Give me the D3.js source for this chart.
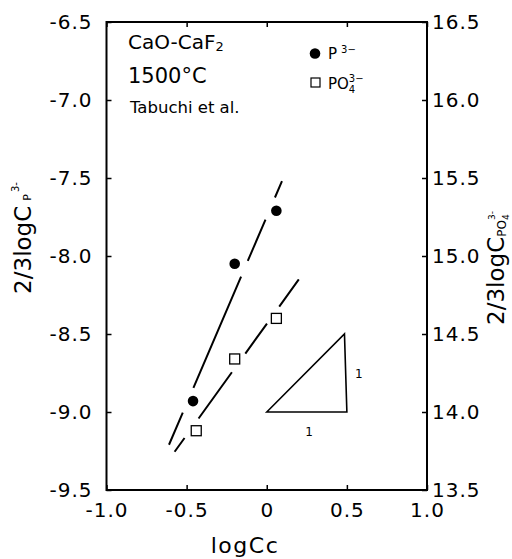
<!DOCTYPE html>
<html><head><meta charset="utf-8">
<script src="https://cdn.jsdelivr.net/npm/d3@7"></script>
<style>
html,body{margin:0;padding:0;background:#fff;}
text{font-family:"DejaVu Sans",sans-serif;fill:#000;}
</style></head>
<body><svg id="c" width="512" height="559"></svg>
<script>
// ---- data ----
const xTicks = [-1.0, -0.5, 0, 0.5, 1.0];
const yLeftTicks = [-6.5, -7.0, -7.5, -8.0, -8.5, -9.0, -9.5];
const yRightTicks = [16.5, 16.0, 15.5, 15.0, 14.5, 14.0, 13.5];
// P3- (left axis)
const pX = [-0.46, -0.20, 0.06];
const pY = [-8.93, -8.05, -7.71];
// PO4 3- (right axis)
const po4X = [-0.44, -0.20, 0.06];
const po4Y = [13.88, 14.34, 14.60];
// fitted lines
const pLineX = [-0.61, 0.095];
const pLineY = [-9.21, -7.52];
const po4LineX = [-0.575, 0.20];
const po4LineY = [13.745, 14.85];
// slope triangle (left axis units)
const triX = [0, 0.485, 0.5];
const triY = [-9.0, -8.5, -9.0];

const svg = d3.select("#c");
const L = 106.5, R = 427, T = 22, B = 490;
const x = d3.scaleLinear().domain([-1, 1]).range([L, R]);
const yL = d3.scaleLinear().domain([-9.5, -6.5]).range([B, T]);
const yR = d3.scaleLinear().domain([13.5, 16.5]).range([B, T]);
const fmt = d => d === 0 ? "0" : d3.format(".1f")(d).replace("−", "-");

// axes
const gx = svg.append("g").attr("transform", `translate(0,${B})`)
  .call(d3.axisBottom(x).tickValues(xTicks).tickFormat(fmt).tickSize(-5).tickSizeOuter(0).tickPadding(13));
const gxt = svg.append("g").attr("transform", `translate(0,${T})`)
  .call(d3.axisTop(x).tickValues(xTicks).tickFormat("").tickSize(-5).tickSizeOuter(0));
const gl = svg.append("g").attr("transform", `translate(${L},0)`)
  .call(d3.axisLeft(yL).tickValues(yLeftTicks).tickFormat(fmt).tickSize(-5).tickSizeOuter(0).tickPadding(14));
const gr = svg.append("g").attr("transform", `translate(${R},0)`)
  .call(d3.axisRight(yR).tickValues(yRightTicks).tickFormat(fmt).tickSize(-5).tickSizeOuter(0).tickPadding(5));
[gx, gxt, gl, gr].forEach(g => {
  g.select(".domain").remove();
  g.selectAll(".tick line").attr("stroke", "#000").attr("stroke-width", 1.5);
  g.selectAll("text").style("font-size", "20px").attr("fill", "#000")
    .style("font-family", '"DejaVu Sans",sans-serif').style("letter-spacing", "1px");
});
svg.append("rect").attr("x", L).attr("y", T).attr("width", R - L).attr("height", B - T)
  .attr("fill", "none").attr("stroke", "#000").attr("stroke-width", 2);

// fitted lines
const line = d3.line();
svg.append("path")
  .attr("d", line(pLineX.map((v, i) => [x(v), yL(pLineY[i])])))
  .attr("stroke", "#000").attr("stroke-width", 2).attr("fill", "none")
  .attr("stroke-dasharray", "35,27,121,17,45,24,18");
svg.append("path")
  .attr("d", line(po4LineX.map((v, i) => [x(v), yR(po4LineY[i])])))
  .attr("stroke", "#000").attr("stroke-width", 2).attr("fill", "none")
  .attr("stroke-dasharray", "17,24,57,23,37,21,34");

// markers
svg.selectAll(".pc").data(pX).enter().append("circle")
  .attr("cx", d => x(d)).attr("cy", (d, i) => yL(pY[i])).attr("r", 5.3).attr("fill", "#000");
const s = 10;
svg.selectAll(".ps").data(po4X).enter().append("rect")
  .attr("x", d => x(d) - s / 2).attr("y", (d, i) => yR(po4Y[i]) - s / 2)
  .attr("width", s).attr("height", s).attr("fill", "#fff").attr("stroke", "#000").attr("stroke-width", 1.3);

// triangle
svg.append("path")
  .attr("d", line(triX.map((v, i) => [x(v), yL(triY[i])])) + "Z")
  .attr("fill", "none").attr("stroke", "#000").attr("stroke-width", 1.6);
svg.append("text").attr("x", x(0.5) + 8).attr("y", yL(-8.75) + 5).style("font-size", "12px").text("1");
svg.append("text").attr("x", x(0.24)).attr("y", yL(-9.0) + 24).style("font-size", "12px").text("1");

// annotations
svg.append("text").attr("x", 128).attr("y", 49).style("font-size", "20px")
  .call(t => { t.append("tspan").text("CaO-CaF"); t.append("tspan").attr("dy", 2).style("font-size", "13px").text("2"); });
svg.append("text").attr("x", 128).attr("y", 83).style("font-size", "21px").text("1500°C");
svg.append("text").attr("x", 130).attr("y", 113).style("font-size", "16.5px").text("Tabuchi et al.");

// legend
svg.append("circle").attr("cx", 315).attr("cy", 53.5).attr("r", 5.3).attr("fill", "#000");
svg.append("text").attr("x", 328).attr("y", 59).style("font-size", "15px")
  .call(t => { t.append("tspan").text("P"); t.append("tspan").attr("dx", 4).attr("dy", -6).style("font-size", "10px").text("3−"); });
svg.append("rect").attr("x", 311).attr("y", 78).attr("width", 9).attr("height", 9)
  .attr("fill", "#fff").attr("stroke", "#000").attr("stroke-width", 1.2);
svg.append("text").attr("x", 328).attr("y", 89).style("font-size", "15px")
  .call(t => {
    t.append("tspan").text("PO");
    t.append("tspan").attr("dy", 4).style("font-size", "10px").text("4");
    t.append("tspan").attr("dx", -6.4).attr("dy", -11).style("font-size", "10px").text("3−");
  });

// axis titles
svg.append("text").attr("x", 245).attr("y", 553).attr("text-anchor", "middle")
  .style("font-size", "22px").style("letter-spacing", "1.5px").text("logCc");
svg.append("text").attr("transform", "translate(31,238) rotate(-90)").attr("text-anchor", "middle")
  .style("font-size", "23px")
  .call(t => {
    t.append("tspan").text("2/3logC");
    t.append("tspan").attr("dx", 5).style("font-size", "11px").text("P");
    t.append("tspan").attr("dx", 2).attr("dy", -12).style("font-size", "10px").text("3-");
  });
svg.append("text").attr("transform", "translate(504,268) rotate(-90)").attr("text-anchor", "middle")
  .style("font-size", "23px")
  .call(t => {
    t.append("tspan").text("2/3logC");
    t.append("tspan").attr("dy", 2).style("font-size", "12px").text("PO");
    t.append("tspan").attr("dy", 3).style("font-size", "9px").text("4");
    t.append("tspan").attr("dx", -5.7).attr("dy", -14).style("font-size", "9px").text("3-");
  });
</script></body></html>
